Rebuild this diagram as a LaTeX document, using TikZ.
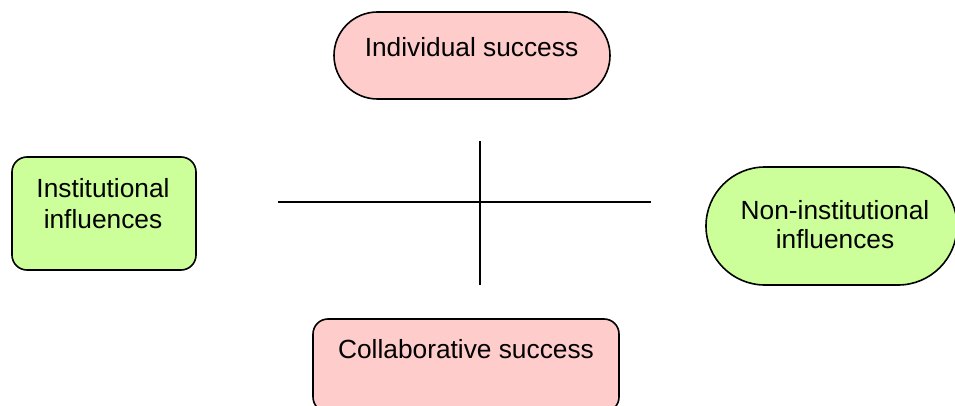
\documentclass[tikz,border=0pt]{standalone}
\usepackage{fontspec}
\setmainfont{Liberation Sans}
\definecolor{pinkfill}{HTML}{FFCCCC}
\definecolor{greenfill}{HTML}{CCFF99}
\begin{document}
\begin{tikzpicture}[x=1pt,y=-1pt,
  shell/.style={draw=black,line width=1.6pt},
  axis/.style={draw=black,line width=1.5pt},
  caption/.style={font=\fontsize{26.3}{30.5}\selectfont,inner sep=0pt,align=center,anchor=base}]
  \useasboundingbox (0,0) rectangle (955,406);
  \begin{scope}
    \clip (0,0) rectangle (955,406);
    % outcome shapes (pink) and influence shapes (green)
    \draw[shell,fill=pinkfill,rounded corners=43.5pt] (334,12) rectangle (610,99);
    \node[caption] (indiv) at (471.5,57) {Individual success};
    \draw[shell,fill=greenfill,rounded corners=15pt] (12,157) rectangle (196,270);
    \node[caption] (inst) at (103,228) {Institutional\\influences};
    \draw[shell,fill=greenfill,rounded corners=59pt] (706,167) rectangle (957,285);
    \node[caption,font=\fontsize{26.3}{29}\selectfont] (noninst) at (835,248.5) {Non-institutional\\influences};
    \draw[shell,fill=pinkfill,rounded corners=15pt] (313,319) rectangle (619,412);
    \node[caption] (collab) at (466,358) {Collaborative success};
  \end{scope}
  % central cross
  \coordinate (hl) at (278,202);
  \coordinate (hr) at (651,202);
  \coordinate (vt) at (480,141);
  \coordinate (vb) at (480,285);
  \draw[axis] (hl) -- (hr);
  \draw[axis] (vt) -- (vb);
\end{tikzpicture}
\end{document}
